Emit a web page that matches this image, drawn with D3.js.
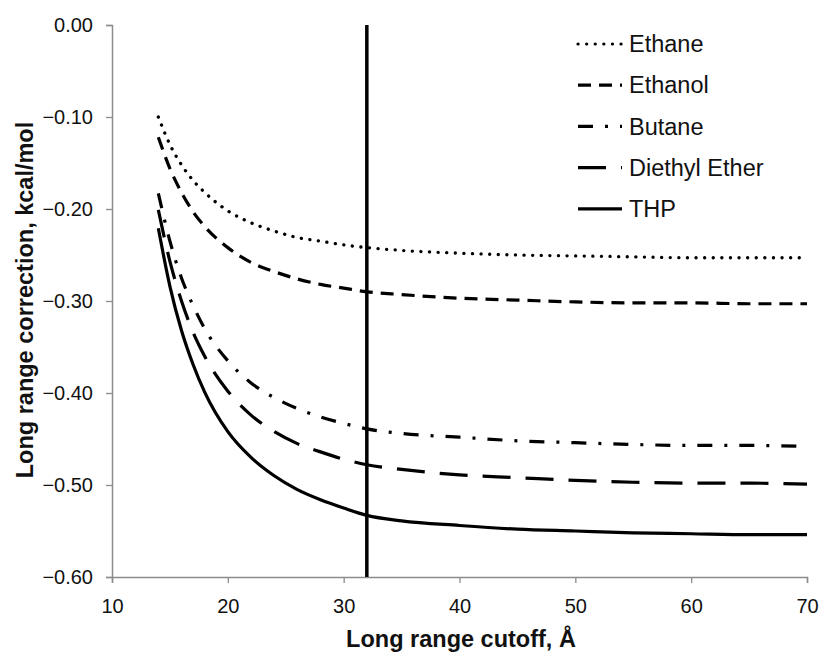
<!DOCTYPE html>
<html>
<head>
<meta charset="utf-8">
<script src="https://cdn.jsdelivr.net/npm/d3@7"></script>
<style>
  body { margin: 0; background: #fff; }
  text { font-family: "Liberation Sans", Arial, sans-serif; fill: #111; }
</style>
</head>
<body>
<svg id="chart" width="821" height="656"></svg>
<script>
// cutoff values (Å)
const cutoffs = [14, 15, 16, 17, 18, 20, 22, 24, 26, 28, 30, 32, 35, 40, 45, 50, 55, 60, 65, 70];

// long range correction, kcal/mol
const ethane  = [-0.100, -0.130, -0.152, -0.169, -0.182, -0.202, -0.215, -0.224, -0.231, -0.235, -0.239, -0.242, -0.245, -0.248, -0.250, -0.251, -0.252, -0.253, -0.253, -0.253];
const ethanol = [-0.122, -0.156, -0.182, -0.203, -0.219, -0.242, -0.258, -0.268, -0.276, -0.282, -0.286, -0.290, -0.293, -0.297, -0.299, -0.301, -0.302, -0.302, -0.303, -0.303];
const butane  = [-0.183, -0.235, -0.275, -0.305, -0.330, -0.365, -0.389, -0.405, -0.417, -0.426, -0.433, -0.439, -0.444, -0.448, -0.452, -0.454, -0.456, -0.457, -0.457, -0.458];
const diethyl = [-0.201, -0.257, -0.300, -0.334, -0.360, -0.398, -0.424, -0.442, -0.455, -0.464, -0.472, -0.478, -0.483, -0.489, -0.492, -0.495, -0.497, -0.498, -0.498, -0.499];
const thp     = [-0.221, -0.284, -0.332, -0.369, -0.399, -0.442, -0.470, -0.490, -0.505, -0.516, -0.525, -0.533, -0.539, -0.544, -0.548, -0.550, -0.552, -0.553, -0.554, -0.554];

const seriesNames = ["Ethane", "Ethanol", "Butane", "Diethyl Ether", "THP"];
const seriesValues = [ethane, ethanol, butane, diethyl, thp];
const cutoffMarker = 32;

const xTicks = [10, 20, 30, 40, 50, 60, 70];
const yTicks = [0, -0.1, -0.2, -0.3, -0.4, -0.5, -0.6];

// line styles per series
const dashes = ["0.1,8.5", "13,8", "15,12,3,12", "28,15", null];

const margin = { top: 25, right: 14, bottom: 79, left: 112 };
const width = 821 - margin.left - margin.right;
const height = 656 - margin.top - margin.bottom;

const svg = d3.select("#chart");
const g = svg.append("g").attr("transform", `translate(${margin.left},${margin.top})`);

const x = d3.scaleLinear().domain([10, 70]).range([0, width]);
const y = d3.scaleLinear().domain([-0.6, 0]).range([height, 0]);

// axes
const xAxis = g.append("g")
  .attr("transform", `translate(0,${height})`)
  .call(d3.axisBottom(x).tickValues(xTicks).tickSize(6).tickPadding(16).tickFormat(d3.format("d")));
const yAxis = g.append("g")
  .call(d3.axisLeft(y).tickValues(yTicks).tickSize(6).tickPadding(13).tickFormat(d3.format(".2f")));

[xAxis, yAxis].forEach(a => {
  a.select(".domain").attr("stroke", "#8c8c8c").attr("stroke-width", 1.5);
  a.selectAll(".tick line").attr("stroke", "#8c8c8c").attr("stroke-width", 1.3);
  a.selectAll(".tick text")
    .style("font-size", "20px")
    .style("font-family", "'Liberation Sans', Arial, sans-serif")
    .attr("fill", "#1a1a1a");
});

// vertical cutoff marker
g.append("line")
  .attr("x1", x(cutoffMarker)).attr("x2", x(cutoffMarker))
  .attr("y1", y(0)).attr("y2", y(-0.6))
  .attr("stroke", "#000").attr("stroke-width", 3.5);

const line = d3.line()
  .x((d, i) => x(cutoffs[i]))
  .y(d => y(d))
  .curve(d3.curveMonotoneX);

seriesValues.forEach((vals, i) => {
  g.append("path")
    .datum(vals)
    .attr("d", line)
    .attr("fill", "none")
    .attr("stroke", "#000")
    .attr("stroke-width", i === 0 ? 3.3 : 3.2)
    .attr("stroke-linecap", i === 0 ? "round" : "butt")
    .attr("stroke-dasharray", dashes[i]);
});

// legend
const legend = g.append("g").attr("transform", `translate(${578 - margin.left},${44 - margin.top})`);
seriesNames.forEach((name, i) => {
  const row = legend.append("g").attr("transform", `translate(0,${i * 41.2})`);
  row.append("line")
    .attr("x1", 0).attr("x2", 44)
    .attr("y1", 0).attr("y2", 0)
    .attr("stroke", "#000")
    .attr("stroke-width", 3.2)
    .attr("stroke-linecap", i === 0 ? "round" : "butt")
    .attr("stroke-dasharray", dashes[i]);
  row.append("text")
    .attr("x", 51).attr("y", 0).attr("dy", "0.35em")
    .style("font-size", "23.5px")
    .text(name);
});

// axis titles
svg.append("text")
  .attr("x", 461)
  .attr("y", 647)
  .attr("text-anchor", "middle")
  .style("font-size", "23.5px")
  .style("font-weight", "bold")
  .text("Long range cutoff, Å");

svg.append("text")
  .attr("transform", `translate(33,300) rotate(-90)`)
  .attr("text-anchor", "middle")
  .style("font-size", "23.5px")
  .style("font-weight", "bold")
  .text("Long range correction, kcal/mol");
</script>
</body>
</html>
